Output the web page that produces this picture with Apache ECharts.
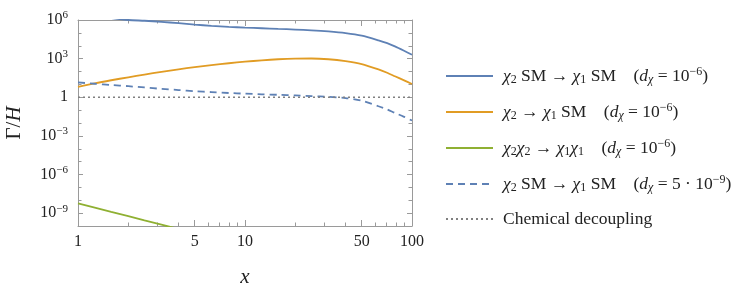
<!DOCTYPE html>
<html>
<head>
<meta charset="utf-8">
<script src="https://cdn.jsdelivr.net/npm/echarts@6/dist/echarts.min.js"></script>
<style>
html,body{margin:0;padding:0;background:#fff;}
#main{width:747px;height:293px;}
</style>
</head>
<body>
<div id="main"></div>
<script>
// x values (actual x); y values stored as log10(Gamma/H)
const blueX   = [1.58, 2, 2.5, 3.16, 4, 5, 6.3, 8, 10, 12.6, 15.8, 20, 25, 31.6, 40, 50, 63, 71, 79, 89, 100];
const blueLog = [6.15, 6.0, 5.94, 5.86, 5.75, 5.64, 5.55, 5.47, 5.41, 5.36, 5.31, 5.26, 5.2, 5.11, 4.98, 4.78, 4.42, 4.2, 3.95, 3.63, 3.3];

const orangeX   = [1, 1.26, 1.58, 2, 2.5, 3.16, 4, 5, 6.3, 8, 10, 12.6, 15.8, 20, 25, 31.6, 40, 50, 63, 71, 79, 89, 100];
const orangeLog = [0.8, 1.08, 1.32, 1.55, 1.76, 1.97, 2.17, 2.34, 2.5, 2.64, 2.76, 2.87, 2.95, 3.0, 3.01, 2.95, 2.8, 2.57, 2.16, 1.9, 1.63, 1.33, 1.03];

const greenX   = [1, 1.26, 1.58, 2, 2.5, 3.16, 4];
const greenLog = [-8.25, -8.58, -8.91, -9.24, -9.57, -9.9, -10.23];

const dashX   = [1, 1.26, 1.58, 2, 2.5, 3.16, 4, 5, 6.3, 8, 10, 12.6, 15.8, 20, 25, 31.6, 40, 50, 63, 71, 79, 89, 100];
const dashLog = [1.15, 1.05, 0.95, 0.86, 0.76, 0.65, 0.56, 0.47, 0.4, 0.33, 0.28, 0.23, 0.19, 0.14, 0.09, 0.03, -0.06, -0.27, -0.7, -0.95, -1.22, -1.5, -1.81];

const decoupX   = [1, 100];
const decoupLog = [0, 0];

const xMajorTicks = [1, 5, 10, 50, 100];
const xMinorTicks = [2, 3, 4, 6, 7, 8, 9, 20, 30, 40, 60, 70, 80, 90];
const yMajorExp = [-9, -6, -3, 0, 3, 6];
const yMinorExp = [-10, -8, -7, -5, -4, -2, -1, 1, 2, 4, 5];

const legendNames = ['s1', 's2', 's3', 's4', 's5'];
const legendTexts = {
  s1: '{c|χ}{sub|2}{t| SM → }{c|χ}{sub|1}{t| SM    (}{i|d}{csub|χ}{t| = 10}{sup|−6}{t|)}',
  s2: '{c|χ}{sub|2}{t| → }{c|χ}{sub|1}{t| SM    (}{i|d}{csub|χ}{t| = 10}{sup|−6}{t|)}',
  s3: '{c|χ}{sub|2}{c|χ}{sub|2}{t| → }{c|χ}{sub|1}{c|χ}{sub|1}{t|    (}{i|d}{csub|χ}{t| = 10}{sup|−6}{t|)}',
  s4: '{c|χ}{sub|2}{t| SM → }{c|χ}{sub|1}{t| SM    (}{i|d}{csub|χ}{t| = 5 · 10}{sup|−9}{t|)}',
  s5: '{t|Chemical decoupling}'
};

const L = v => Math.log10(v);
const pts = (xs, ys) => xs.map((x, i) => [L(x), ys[i]]);

const FONT = "'Liberation Serif', 'DejaVu Serif', serif";
const TXT = '#222';
const FRAME = '#9a9a9a';
const BLUE = '#5E81B5';
const ORANGE = '#E19C24';
const GREEN = '#8FB032';
const FS = 16;
const LFS = 17.5;

const richBase = {
  t: {fontFamily: FONT, fontSize: LFS, color: TXT, lineHeight: 20},
  c: {fontFamily: FONT, fontSize: LFS, color: TXT, lineHeight: 20, fontStyle: 'italic'},
  i: {fontFamily: FONT, fontSize: LFS, color: TXT, lineHeight: 20, fontStyle: 'italic'},
  sub: {fontFamily: FONT, fontSize: 12, color: TXT, lineHeight: 12, verticalAlign: 'bottom'},
  csub: {fontFamily: FONT, fontSize: 12, color: TXT, lineHeight: 12, verticalAlign: 'bottom', fontStyle: 'italic'},
  sup: {fontFamily: FONT, fontSize: 12, color: TXT, lineHeight: 12, verticalAlign: 'top'}
};

function xAxisDef(pos, ticks, len, showLine, showLabel) {
  return {
    type: 'value', position: pos, min: 0, max: 2,
    axisLine: {show: showLine, onZero: false, lineStyle: {color: FRAME, width: 1}},
    axisTick: {show: true, inside: true, length: len, customValues: ticks.map(L), lineStyle: {color: FRAME, width: 1}},
    axisLabel: showLabel ? {
      show: true, customValues: ticks.map(L), margin: 8,
      fontFamily: FONT, fontSize: FS, color: TXT,
      formatter: v => String(Math.round(Math.pow(10, v)))
    } : {show: false},
    splitLine: {show: false}
  };
}
function yAxisDef(pos, ticks, len, showLine, showLabel) {
  return {
    type: 'value', position: pos, min: -10, max: 6,
    axisLine: {show: showLine, onZero: false, lineStyle: {color: FRAME, width: 1}},
    axisTick: {show: true, inside: true, length: len, customValues: ticks, lineStyle: {color: FRAME, width: 1}},
    axisLabel: showLabel ? {
      show: true, customValues: ticks, margin: 10,
      fontFamily: FONT, fontSize: FS, color: TXT,
      formatter: v => {
        const e = Math.round(v);
        if (e === 0) return '{b|1}';
        return '{b|10}{sup|' + (e < 0 ? '−' + (-e) : e) + '}';
      },
      rich: {
        b: {fontFamily: FONT, fontSize: FS, color: TXT, lineHeight: 20},
        sup: {fontFamily: FONT, fontSize: 11, color: TXT, lineHeight: 12, verticalAlign: 'top'}
      }
    } : {show: false},
    splitLine: {show: false}
  };
}

const xs = [
  xAxisDef('bottom', xMajorTicks, 6, true, true),
  xAxisDef('bottom', xMinorTicks, 3.5, false, false),
  xAxisDef('top', xMajorTicks, 6, true, false),
  xAxisDef('top', xMinorTicks, 3.5, false, false)
];
xs[0].name = 'x';
xs[0].nameLocation = 'middle';
xs[0].nameGap = 41;
xs[0].nameTextStyle = {fontFamily: FONT, fontSize: 21, fontStyle: 'italic', color: TXT};

const ys = [
  yAxisDef('left', yMajorExp, 5, true, true),
  yAxisDef('left', yMinorExp, 3.5, false, false),
  yAxisDef('right', yMajorExp, 5, true, false),
  yAxisDef('right', yMinorExp, 3.5, false, false)
];
ys[0].name = '{g|Γ/}{h|H}';
ys[0].nameLocation = 'middle';
ys[0].nameRotate = 90;
ys[0].nameGap = 53;
ys[0].nameTextStyle = {
  rich: {
    g: {fontFamily: FONT, fontSize: 21, color: TXT},
    h: {fontFamily: FONT, fontSize: 21, color: TXT, fontStyle: 'italic'}
  }
};

function lineSeries(name, data, color, type, width, smooth) {
  return {
    name, type: 'line', data, xAxisIndex: 0, yAxisIndex: 0,
    symbol: 'none', smooth, clip: true, silent: true, animation: false,
    lineStyle: {color, width, type}, itemStyle: {color}
  };
}

const chart = echarts.init(document.getElementById('main'), null, {renderer: 'canvas'});
chart.setOption({
  animation: false,
  backgroundColor: '#fff',
  grid: {left: 78, right: 335, top: 20, bottom: 67, containLabel: false},
  xAxis: xs,
  yAxis: ys,
  legend: {
    orient: 'vertical', left: 445, top: 66, padding: 0,
    itemWidth: 47, itemHeight: 14, itemGap: 16,
    data: legendNames,
    itemStyle: {opacity: 0},
    formatter: n => legendTexts[n],
    textStyle: {fontFamily: FONT, fontSize: LFS, color: TXT, padding: [0, 0, 0, 5], rich: richBase},
    selectedMode: false
  },
  series: [
    lineSeries('s1', pts(blueX, blueLog), BLUE, 'solid', 1.8, 0.25),
    lineSeries('s2', pts(orangeX, orangeLog), ORANGE, 'solid', 1.8, 0.25),
    lineSeries('s3', pts(greenX, greenLog), GREEN, 'solid', 1.8, false),
    lineSeries('s4', pts(dashX, dashLog), BLUE, [7, 5], 1.8, 0.25),
    lineSeries('s5', pts(decoupX, decoupLog), '#808080', [2, 3], 1.6, false)
  ]
});
</script>
</body>
</html>
